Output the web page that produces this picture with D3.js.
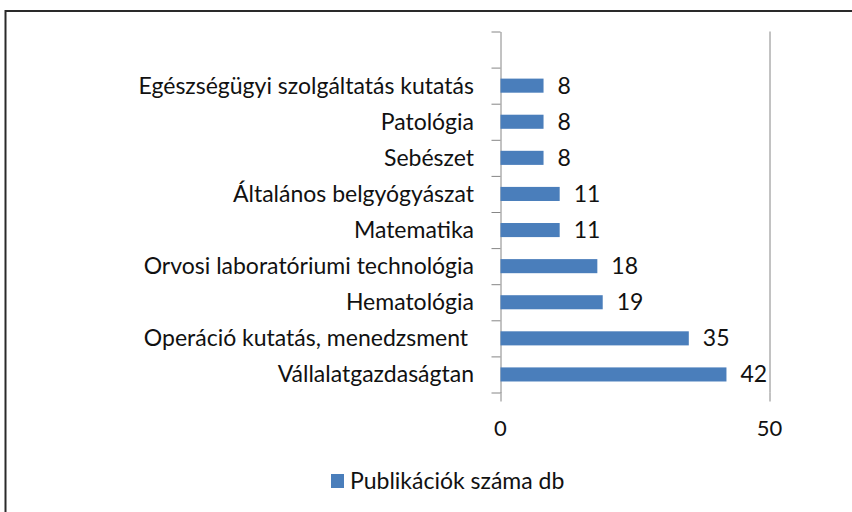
<!DOCTYPE html>
<html>
<head>
<meta charset="utf-8">
<script src="https://cdn.jsdelivr.net/npm/d3@7"></script>
<style>
  body { margin: 0; background: #fff; }
  text { font-family: Lato, "Open Sans", sans-serif; fill: #111; white-space: pre; }
</style>
</head>
<body>
<div id="zone_graphique"></div>
<script>
var largeur = 852;
var hauteur = 512;

// données (de haut en bas, la première catégorie est vide)
var categories = ["", "Egészségügyi szolgáltatás kutatás", "Patológia", "Sebészet",
    "Általános belgyógyászat", "Matematika", "Orvosi laboratóriumi technológia",
    "Hematológia", "Operáció kutatás, menedzsment ", "Vállalatgazdaságtan"];
var valeurs = [null, 8, 8, 8, 11, 11, 18, 19, 35, 42];
var ticksX = [0, 50];
var serie = "Publikációk száma db";

var svg = d3.select("#zone_graphique")
    .append("svg")
        .attr("width", largeur)
        .attr("height", hauteur);

// cadre
svg.append("rect")
    .attr("x", 5.5).attr("y", 11)
    .attr("width", 900).attr("height", 600)
    .attr("fill", "none")
    .attr("stroke", "#2a2a2a")
    .attr("stroke-width", 2);

var haut = 31.5, bas = 392.5;

var x = d3.scaleLinear()
    .domain([0, 50])
    .range([500.5, 769.5]);

var y = d3.scaleBand()
    .domain(categories)
    .range([haut, bas]);

var yIdx = d3.scaleLinear()
    .domain([0, categories.length])
    .range([haut, bas]);

// axe vertical avec graduations entre les catégories
var yAxis = svg.append("g")
    .attr("transform", "translate(" + x(0) + ",0)")
    .call(d3.axisLeft(yIdx).tickValues(d3.range(categories.length + 1)).tickSize(9).tickSizeOuter(0).tickFormat(""));
yAxis.selectAll("line, path").attr("stroke", "#868686");

// ligne de grille à 50
var grid = svg.append("g")
    .attr("transform", "translate(0," + bas + ")")
    .call(d3.axisBottom(x).tickValues([50]).tickSize(-(bas - haut)).tickFormat(""));
grid.select(".domain").remove();
grid.selectAll("line").attr("stroke", "#868686");

// axe horizontal : graduations seulement
var xAxis = svg.append("g")
    .attr("transform", "translate(0," + bas + ")")
    .call(d3.axisBottom(x).tickValues(ticksX).tickSize(9).tickFormat(""));
xAxis.select(".domain").remove();
xAxis.selectAll("line").attr("stroke", "#868686");

svg.selectAll(".xlabel")
    .data(ticksX)
    .enter()
    .append("text")
        .attr("class", "xlabel")
        .attr("x", function (d) { return x(d); })
        .attr("y", bas + 43)
        .attr("text-anchor", "middle")
        .attr("font-size", "22px")
        .text(function (d) { return d; });

var data = categories.map(function (c, i) { return {cat: c, val: valeurs[i]}; })
    .filter(function (d) { return d.val != null; });

var hBarre = y.bandwidth() * 0.39;

// barres
svg.selectAll(".barre")
    .data(data)
    .enter()
    .append("rect")
        .attr("class", "barre")
        .attr("x", x(0))
        .attr("y", function (d) { return y(d.cat) + y.bandwidth() / 2 - hBarre / 2; })
        .attr("width", function (d) { return x(d.val) - x(0); })
        .attr("height", hBarre)
        .attr("fill", "#4a7ebb");

// étiquettes des catégories
svg.selectAll(".cat")
    .data(data)
    .enter()
    .append("text")
        .attr("class", "cat")
        .attr("x", 474)
        .attr("y", function (d) { return y(d.cat) + y.bandwidth() / 2 + 8; })
        .attr("text-anchor", "end")
        .attr("font-size", "23px")
        .text(function (d) { return d.cat; });

// valeurs
svg.selectAll(".val")
    .data(data)
    .enter()
    .append("text")
        .attr("class", "val")
        .attr("x", function (d) { return x(d.val) + 14; })
        .attr("y", function (d) { return y(d.cat) + y.bandwidth() / 2 + 8; })
        .attr("font-size", "23px")
        .text(function (d) { return d.val; });

// légende
svg.append("rect")
    .attr("x", 331).attr("y", 474)
    .attr("width", 13).attr("height", 14)
    .attr("fill", "#4a7ebb");
svg.append("text")
    .attr("x", 350)
    .attr("y", 489)
    .attr("font-size", "23px")
    .text(serie);
</script>
</body>
</html>
